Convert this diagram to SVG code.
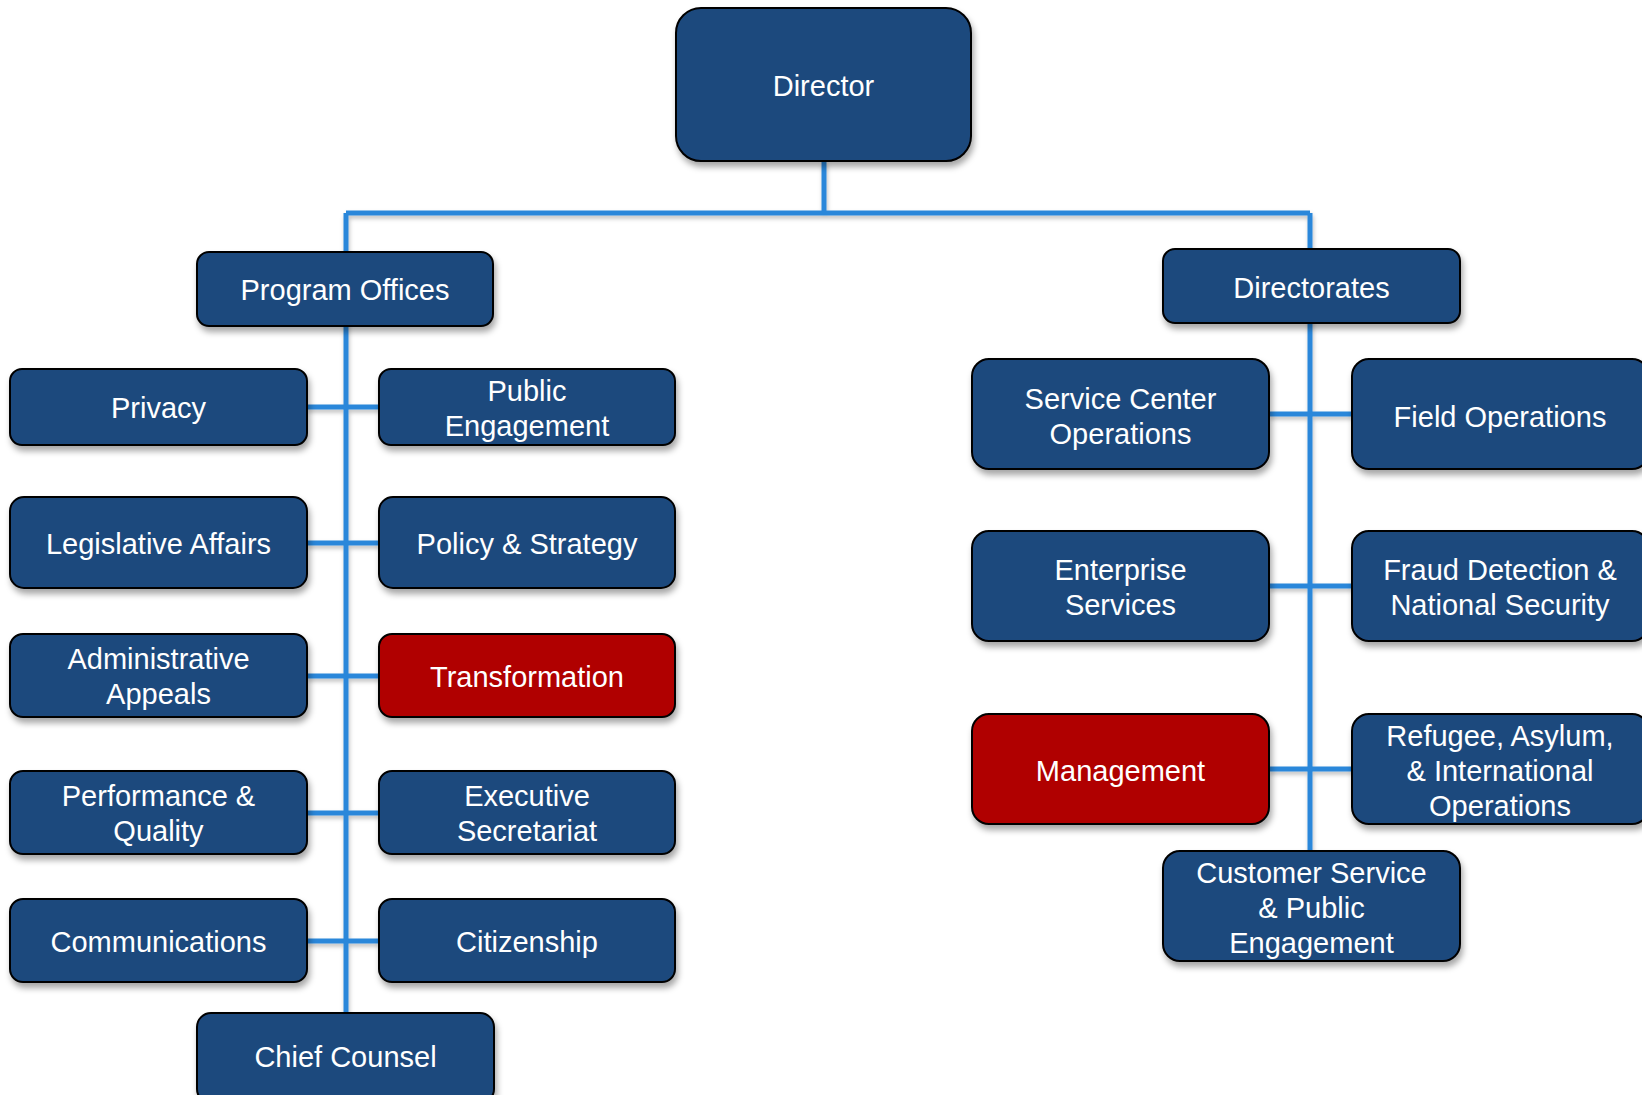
<svg xmlns="http://www.w3.org/2000/svg" width="1642" height="1095" viewBox="0 0 1642 1095">
<defs>
<filter id="sh" x="-10%" y="-20%" width="125%" height="150%">
<feDropShadow dx="2" dy="5" stdDeviation="3" flood-color="#000" flood-opacity="0.35"/>
</filter>
<filter id="lsh" x="-5%" y="-5%" width="110%" height="110%">
<feDropShadow dx="1" dy="3" stdDeviation="2" flood-color="#000" flood-opacity="0.25"/>
</filter>
</defs>
<style>
rect.b{fill:#1F497D;stroke:#000;stroke-width:2;filter:url(#sh)}
rect.r{fill:#B00000;stroke:#000;stroke-width:2;filter:url(#sh)}
text{font-family:"Liberation Sans",Arial,sans-serif;font-size:29px;fill:#fff;text-anchor:middle}
.ln{stroke:#2B87DA;stroke-width:5;fill:none}
</style>
<rect width="1642" height="1095" fill="#fff"/>
<g id="connectors" filter="url(#lsh)">
<path class="ln" d="M824 161V213M346 213H1310M346 213V1013M1310 213V851"/>
<path class="ln" d="M307 407H379M307 543H379M307 676H379M307 813H379M307 941H379"/>
<path class="ln" d="M1269 414H1352M1269 586H1352M1269 769H1352"/>
</g>
<g id="director"><rect class="b" x="676" y="8" width="295" height="153" rx="25"/><text x="823.5" y="96">Director</text></g>
<g id="program-offices"><rect class="b" x="197" y="252" width="296" height="74" rx="12"/><text x="345" y="300">Program Offices</text></g>
<g id="directorates"><rect class="b" x="1163" y="249" width="297" height="74" rx="12"/><text x="1311.5" y="298">Directorates</text></g>
<g id="privacy"><rect class="b" x="10" y="369" width="297" height="76" rx="12"/><text x="158.5" y="418">Privacy</text></g>
<g id="public-engagement"><rect class="b" x="379" y="369" width="296" height="76" rx="12"/><text x="527" y="401">Public</text><text x="527" y="436">Engagement</text></g>
<g id="legislative-affairs"><rect class="b" x="10" y="497" width="297" height="91" rx="14"/><text x="158.5" y="554">Legislative Affairs</text></g>
<g id="policy-strategy"><rect class="b" x="379" y="497" width="296" height="91" rx="14"/><text x="527" y="554">Policy &amp; Strategy</text></g>
<g id="administrative-appeals"><rect class="b" x="10" y="634" width="297" height="83" rx="13"/><text x="158.5" y="669">Administrative</text><text x="158.5" y="704">Appeals</text></g>
<g id="transformation"><rect class="r" x="379" y="634" width="296" height="83" rx="13"/><text x="527" y="687">Transformation</text></g>
<g id="performance-quality"><rect class="b" x="10" y="771" width="297" height="83" rx="13"/><text x="158.5" y="806">Performance &amp;</text><text x="158.5" y="841">Quality</text></g>
<g id="executive-secretariat"><rect class="b" x="379" y="771" width="296" height="83" rx="13"/><text x="527" y="806">Executive</text><text x="527" y="841">Secretariat</text></g>
<g id="communications"><rect class="b" x="10" y="899" width="297" height="83" rx="13"/><text x="158.5" y="952">Communications</text></g>
<g id="citizenship"><rect class="b" x="379" y="899" width="296" height="83" rx="13"/><text x="527" y="952">Citizenship</text></g>
<g id="chief-counsel"><rect class="b" x="197" y="1013" width="297" height="90" rx="14"/><text x="345.5" y="1067">Chief Counsel</text></g>
<g id="service-center-operations"><rect class="b" x="972" y="359" width="297" height="110" rx="17"/><text x="1120.5" y="409">Service Center</text><text x="1120.5" y="444">Operations</text></g>
<g id="field-operations"><rect class="b" x="1352" y="359" width="297" height="110" rx="17"/><text x="1500" y="427">Field Operations</text></g>
<g id="enterprise-services"><rect class="b" x="972" y="531" width="297" height="110" rx="17"/><text x="1120.5" y="580">Enterprise</text><text x="1120.5" y="615">Services</text></g>
<g id="fraud-detection"><rect class="b" x="1352" y="531" width="297" height="110" rx="17"/><text x="1500" y="580">Fraud Detection &amp;</text><text x="1500" y="615">National Security</text></g>
<g id="management"><rect class="r" x="972" y="714" width="297" height="110" rx="17"/><text x="1120.5" y="781">Management</text></g>
<g id="refugee-asylum"><rect class="b" x="1352" y="714" width="297" height="110" rx="17"/><text x="1500" y="746">Refugee, Asylum,</text><text x="1500" y="781">&amp; International</text><text x="1500" y="816">Operations</text></g>
<g id="customer-service"><rect class="b" x="1163" y="851" width="297" height="110" rx="17"/><text x="1311.5" y="883">Customer Service</text><text x="1311.5" y="918">&amp; Public</text><text x="1311.5" y="953">Engagement</text></g>
</svg>
